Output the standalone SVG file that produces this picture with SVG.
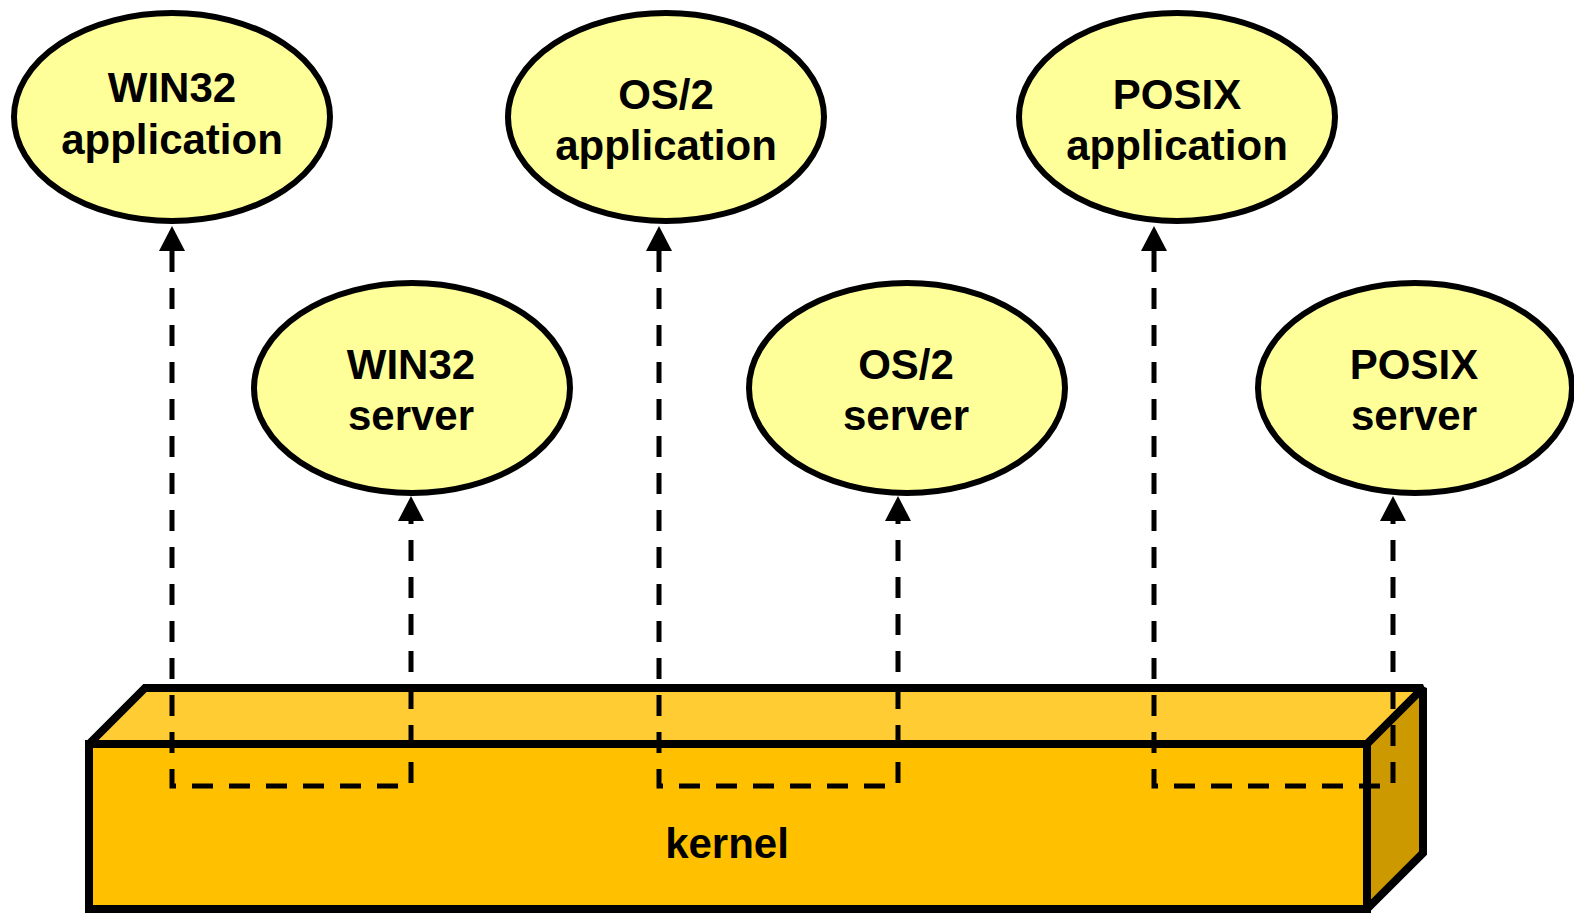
<svg xmlns="http://www.w3.org/2000/svg" width="1574" height="913" viewBox="0 0 1574 913">
<style>
.node ellipse{fill:#FFFF99;stroke:#000;stroke-width:6}
.node text,.kernel text{font-family:"Liberation Sans",Arial,sans-serif;font-weight:bold;font-size:42px;fill:#000;text-anchor:middle}
.conn{fill:none;stroke:#000;stroke-width:5;stroke-dasharray:21 16;marker-start:url(#ah);marker-end:url(#ah)}
.kernel polygon,.kernel rect{stroke:#000;stroke-width:8;stroke-linejoin:miter;stroke-miterlimit:2}
</style>
<defs>
<marker id="ah" markerUnits="userSpaceOnUse" viewBox="0 0 25 26" refX="0" refY="13" markerWidth="25" markerHeight="26" orient="auto-start-reverse">
<path d="M0,0 L25,13 L0,26 z" fill="#000"/>
</marker>
</defs>
<rect width="1574" height="913" fill="#fff"/>
<g id="kernel" class="kernel">
<polygon points="89,744 145,688 1423,688 1367,744" fill="#FFCC33"/>
<polygon points="1367,744 1423,688 1423,853 1367,909" fill="#CC9A00"/>
<rect x="89" y="744" width="1278" height="165" fill="#FFC000"/>
<text x="727" y="858">kernel</text>
</g>
<g id="win32-app" class="node">
<ellipse cx="172" cy="117" rx="158" ry="104"/>
<text x="172" y="102">WIN32</text>
<text x="172" y="154">application</text>
</g>
<g id="os2-app" class="node">
<ellipse cx="666" cy="117" rx="158" ry="104"/>
<text x="666" y="109">OS/2</text>
<text x="666" y="160">application</text>
</g>
<g id="posix-app" class="node">
<ellipse cx="1177" cy="117" rx="158" ry="104"/>
<text x="1177" y="109">POSIX</text>
<text x="1177" y="160">application</text>
</g>
<g id="win32-server" class="node">
<ellipse cx="412" cy="388" rx="158" ry="105"/>
<text x="411" y="379">WIN32</text>
<text x="411" y="430">server</text>
</g>
<g id="os2-server" class="node">
<ellipse cx="907" cy="388" rx="158" ry="105"/>
<text x="906" y="379">OS/2</text>
<text x="906" y="430">server</text>
</g>
<g id="posix-server" class="node">
<ellipse cx="1415" cy="388" rx="157" ry="105"/>
<text x="1414" y="379">POSIX</text>
<text x="1414" y="430">server</text>
</g>
<g id="connectors">
<path class="conn" d="M172,251 V786 H411 V521"/>
<path class="conn" d="M659,251 V786 H898 V521"/>
<path class="conn" d="M1154,251 V786 H1393 V521"/>
</g>
</svg>
